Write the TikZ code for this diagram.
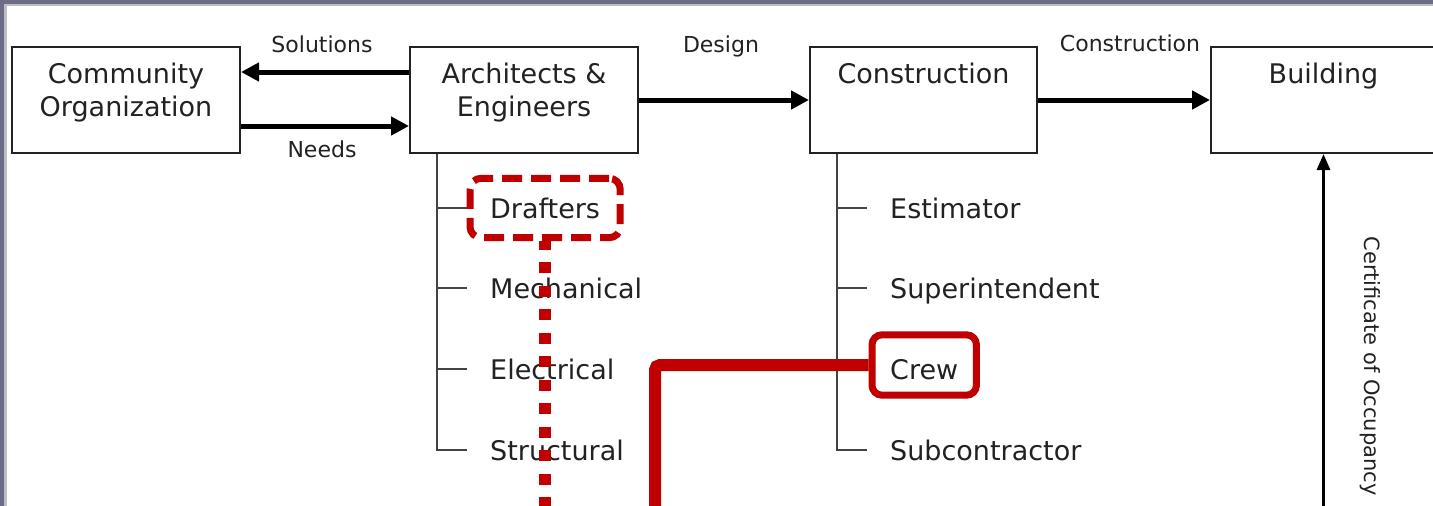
\documentclass[tikz,border=0pt]{standalone}
\usepackage{fontspec}
\setmainfont{DejaVu Sans}
\usetikzlibrary{arrows.meta,fit}
\definecolor{band}{HTML}{6C6C86}
\definecolor{bandlight}{HTML}{BDBDC6}
\definecolor{hl}{HTML}{C00000}
\definecolor{ink}{HTML}{222222}
\begin{document}
\begin{tikzpicture}[x=1pt,y=-1pt,
  box/.style={draw=ink, line width=2pt, rectangle, inner sep=0pt},
  boxtext/.style={font=\fontsize{27}{33}\selectfont, text=ink, align=center, inner sep=0pt, anchor=north},
  lbl/.style={font=\fontsize{22}{26}\selectfont, text=ink, inner sep=0pt, anchor=base},
  item/.style={font=\fontsize{27}{33}\selectfont, text=ink, inner sep=0pt, anchor=base west, text height=20pt, text depth=0pt},
  flow/.style={draw=black, line width=5pt, -{Triangle[length=18pt,width=18pt]}},
  cert/.style={draw=black, line width=3pt, -{Triangle[length=16pt,width=13pt]}},
  tree/.style={draw=ink!85, line width=2pt},
  hldash/.style={draw=hl, line width=7pt, rounded corners=11pt, dash pattern=on 20pt off 9pt, inner xsep=20pt, inner ysep=19.5pt},
  hlsolid/.style={draw=hl, line width=7pt, rounded corners=10pt, inner xsep=18pt, inner ysep=20pt},
  hlline/.style={draw=hl, line width=12pt, rounded corners=5pt},
  hldot/.style={draw=hl, line width=12pt, dash pattern=on 11pt off 12.5pt, dash phase=2.5pt},
]
\useasboundingbox (0,0) rectangle (1433,506);
\clip (0,0) rectangle (1433,506);
\fill[white] (0,0) rectangle (1433,506);
\fill[bandlight] (0,0) rectangle (7,506);
\fill[bandlight] (0,0) rectangle (1433,6);
\fill[band] (0,0) rectangle (4,506);
\fill[band] (0,0) rectangle (1433,4);

% main boxes
\node[box, minimum width=228pt, minimum height=106pt] (comm) at (126,100) {};
\node[box, minimum width=228pt, minimum height=106pt] (arch) at (524,100) {};
\node[box, minimum width=227pt, minimum height=106pt] (cons) at (923.5,100) {};
\node[box, minimum width=225pt, minimum height=106pt] (bldg) at (1323.5,100) {};

\node[boxtext] (commt) at ([yshift=-17pt]comm.north) {Community\\Organization};
\node[boxtext] (archt) at ([yshift=-17pt]arch.north) {Architects \&\\Engineers};
\node[boxtext] (const) at ([yshift=-17pt]cons.north) {Construction};
\node[boxtext] (bldgt) at ([yshift=-17pt]bldg.north) {Building};

% flows
\draw[flow] ([yshift=28pt]arch.west) -- ([yshift=28pt]comm.east);
\draw[flow] ([yshift=-26pt]comm.east) -- ([yshift=-26pt]arch.west);
\draw[flow] (arch.east) -- (cons.west);
\draw[flow] (cons.east) -- (bldg.west);

\node[lbl] (lsol) at (322,52) {Solutions};
\node[lbl] (lneed) at (322,157) {Needs};
\node[lbl] (ldes) at (721,52) {Design};
\node[lbl] (lcon) at (1130,51) {Construction};

% items
\node[item] (drafters) at (490,218) {Drafters};
\node[item] (mech) at (490,298) {Mechanical};
\node[item] (elec) at (490,379) {Electrical};
\node[item] (struct) at (490,460) {Structural};
\node[item] (est) at (890,218) {Estimator};
\node[item] (sup) at (890,298) {Superintendent};
\node[item] (crew) at (890,379) {Crew};
\node[item] (sub) at (890,460) {Subcontractor};

% trees
\draw[tree] ([xshift=28pt]arch.south west) |- ([xshift=-23pt]struct.west);
\foreach \n in {drafters,mech,elec}
  \draw[tree] ([xshift=-52pt]\n.west) -- ([xshift=-23pt]\n.west);
\draw[tree] ([xshift=28pt]cons.south west) |- ([xshift=-23pt]sub.west);
\foreach \n in {est,sup,crew}
  \draw[tree] ([xshift=-52pt]\n.west) -- ([xshift=-23pt]\n.west);

% certificate
\coordinate (certstart) at (1323.5,520);
\draw[cert] (certstart) -- (bldg.south);
\node[font=\fontsize{21}{25}\selectfont, text=ink, rotate=-90, inner sep=0pt] (certl) at (1370,366) {Certificate of Occupancy};

% highlights
\node[hldash, fit=(drafters)] (drbox) {};
\node[hlsolid, fit=(crew), yshift=4pt] (crewbox) {};
\coordinate (dotend) at (drbox.south |- 0,520);
\draw[hldot] (drbox.south) -- (dotend);
\coordinate (lineend) at (655,520);
\draw[hlline] (crewbox.west) -| (lineend);
\end{tikzpicture}
\end{document}
